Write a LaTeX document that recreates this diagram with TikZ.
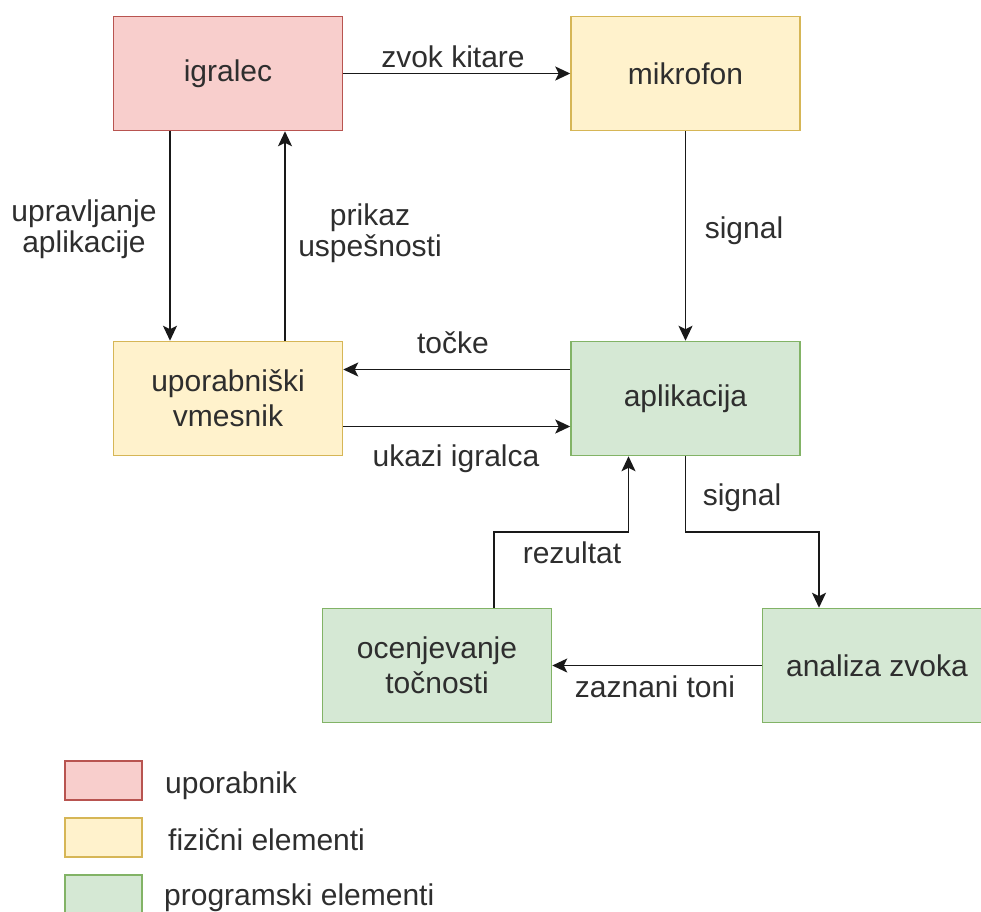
\documentclass[tikz,border=0pt]{standalone}
\usepackage{fontspec}
\setmainfont{Liberation Sans}
\usetikzlibrary{arrows.meta}
\definecolor{redfill}{HTML}{F8CECC}
\definecolor{redline}{HTML}{B85450}
\definecolor{yelfill}{HTML}{FFF2CC}
\definecolor{yelline}{HTML}{D6B656}
\definecolor{grnfill}{HTML}{D5E8D4}
\definecolor{grnline}{HTML}{82B366}
\definecolor{txt}{HTML}{2E2E2E}
\begin{document}
\begin{tikzpicture}[x=1pt,y=-1pt,
  box/.style={draw, line width=1.5pt, minimum width=229pt, minimum height=114pt,
    inner sep=0pt, align=center, text=txt, font=\fontsize{30}{35}\selectfont},
  user/.style={box, draw=redline, fill=redfill},
  phys/.style={box, draw=yelline, fill=yelfill},
  soft/.style={box, draw=grnline, fill=grnfill},
  lbl/.style={inner sep=0pt, align=center, text=txt, font=\fontsize{30}{31}\selectfont},
  arr/.style={line width=1.8pt, draw=black!90, -{Stealth[length=15pt,width=14pt,inset=3.5pt]}},
  legbox/.style={draw, line width=1.5pt, minimum width=77pt, minimum height=39pt, inner sep=0pt}
]
\useasboundingbox (0,0) rectangle (981,911);
\clip (0,0) rectangle (981,911);

% boxes
\node[user] (ig) at (228,73.5) {igralec};
\node[phys] (mik) at (685.5,73.5) {mikrofon};
\node[phys] (up) at (228,398.5) {uporabniški\\vmesnik};
\node[soft] (ap) at (685.5,398.5) {aplikacija};
\node[soft] (oc) at (437,665.5) {ocenjevanje\\točnosti};
\node[soft] (an) at (877,665.5) {analiza zvoka};

% connectors
\draw[arr] (ig.east) -- (mik.west);
\draw[arr] ([xshift=-58pt]ig.south) -- ([xshift=-58pt]up.north);
\draw[arr] ([xshift=57pt]up.north) -- ([xshift=57pt]ig.south);
\draw[arr] (mik.south) -- (ap.north);
\draw[arr] ([yshift=29pt]ap.west) -- ([yshift=29pt]up.east);
\draw[arr] ([yshift=-28pt]up.east) -- ([yshift=-28pt]ap.west);
\draw[arr] (ap.south) -- ++(0,76) -| ([xshift=-58pt]an.north);
\draw[arr] ([xshift=57pt]oc.north) -- ++(0,-76) -| ([xshift=-57pt]ap.south);
\draw[arr] (an.west) -- (oc.east);

% labels
\node[lbl, anchor=base] (l1) at (453,67) {zvok kitare};
\node[lbl, anchor=base] (l2) at (84,252) {upravljanje\\aplikacije};
\node[lbl, anchor=base] (l3) at (370,256) {prikaz\\uspešnosti};
\node[lbl, anchor=base] (l4) at (744,238) {signal};
\node[lbl, anchor=base] (l5) at (453,353) {točke};
\node[lbl, anchor=base] (l6) at (456,466) {ukazi igralca};
\node[lbl, anchor=base] (l7) at (742,505) {signal};
\node[lbl, anchor=base] (l8) at (572,563) {rezultat};
\node[lbl, anchor=base] (l9) at (655,697) {zaznani toni};

% legend
\node[legbox, draw=redline, fill=redfill] (k1) at (103.5,780.5) {};
\node[legbox, draw=yelline, fill=yelfill] (k2) at (103.5,837.5) {};
\node[legbox, draw=grnline, fill=grnfill] (k3) at (103.5,894.5) {};
\node[lbl, anchor=base west] (t1) at (165,793) {uporabnik};
\node[lbl, anchor=base west] (t2) at (168,850) {fizični elementi};
\node[lbl, anchor=base west] (t3) at (164,905) {programski elementi};
\end{tikzpicture}
\end{document}
